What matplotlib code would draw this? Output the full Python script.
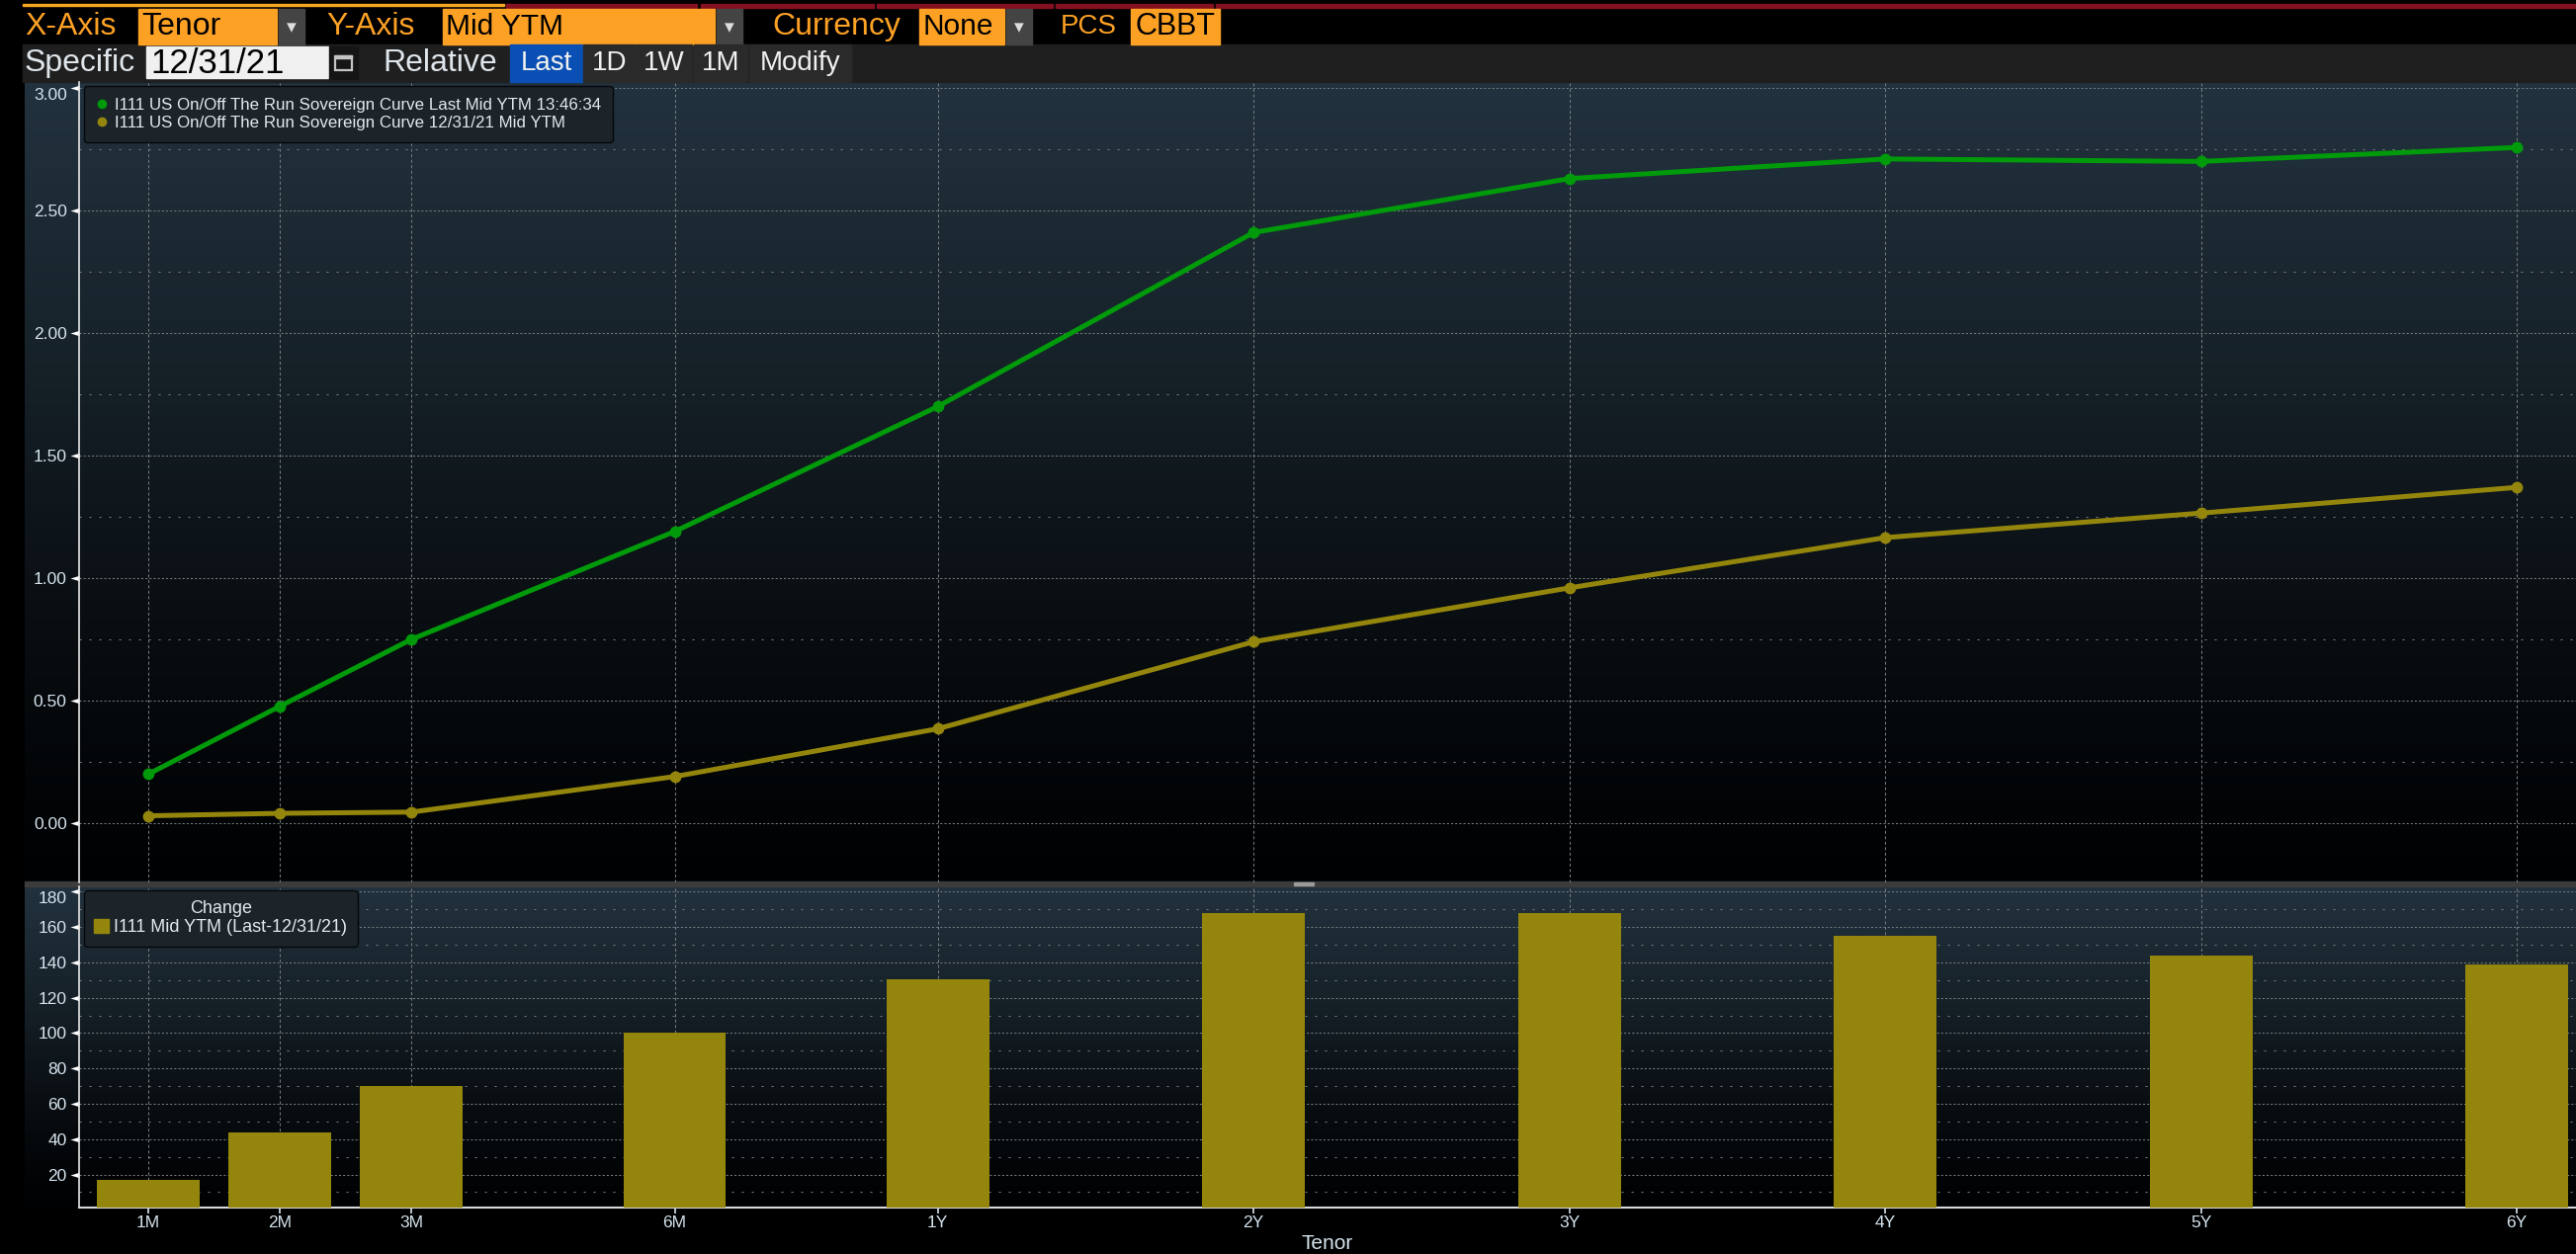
import matplotlib
matplotlib.use("Agg")
import matplotlib.pyplot as plt
import numpy as np
from matplotlib.lines import Line2D
from matplotlib.patches import Patch, Rectangle
from matplotlib.path import Path

W, H = 2606, 1269

tenors = ["1M", "2M", "3M", "6M", "1Y", "2Y", "3Y", "4Y", "5Y", "6Y"]
tenor_pos = [0, 1, 2, 4, 6, 8.4, 10.8, 13.2, 15.6, 18]
ytm_last = [0.20, 0.477, 0.75, 1.19, 1.70, 2.41, 2.63, 2.71, 2.70, 2.757]
ytm_old = [0.03, 0.04, 0.045, 0.19, 0.385, 0.74, 0.96, 1.165, 1.265, 1.37]
change = [17, 43.6, 70, 100, 130.6, 168, 168, 155, 144, 139]

GREEN = "#009a0a"
OLIVE = "#94860c"
ORANGE = "#fda125"
LABEL = "#d6e4ee"
GRID = "#767b7e"
plt.rcParams["font.family"] = ["Liberation Sans", "DejaVu Sans"]


def box(x0, y0, x1, y1):
    # pixel box -> figure fraction rect
    return [x0 / W, 1 - y1 / H, (x1 - x0) / W, (y1 - y0) / H]


fig = plt.figure(figsize=(W / 100, H / 100), dpi=100, facecolor="black")

# toolbar and panel backgrounds, in pixels
bg = fig.add_axes([0, 0, 1, 1], zorder=0)
bg.axis("off")

stops = np.array([[34, 50, 62], [24, 36, 44], [10, 15, 19], [2, 4, 6], [0, 1, 2]]) / 255
for top, bottom in [(83, 893), (897, 1222)]:
    t = np.linspace(0, 1, 256)
    grad = np.stack([np.interp(t, [0, 0.3, 0.65, 0.9, 1], stops[:, i]) for i in range(3)], axis=1)
    bg.imshow(grad[:, None, :], extent=(25, W, bottom, top), aspect="auto", zorder=1)
bg.set_xlim(0, W)
bg.set_ylim(H, 0)
bg.add_patch(Rectangle((25, 892), W - 25, 5, color="#3c3c3c", zorder=2))
bg.add_patch(Rectangle((1309, 892.5), 20, 1, color="#9a9a9a", zorder=3))
bg.add_patch(Rectangle((1309, 895), 20, 1, color="#9a9a9a", zorder=3))
bg.add_patch(Rectangle((23, 45), W - 23, 38, color="#1f1f1f", zorder=2))

bg.add_patch(Rectangle((23, 4), 487, 2, color="#f5a623", zorder=2))
for x0, x1 in [(512, 705), (709, 884), (887, 1065), (1068, 1227), (1230, W)]:
    bg.add_patch(Rectangle((x0, 4), x1 - x0, 3.5, color="#85101f", zorder=2))

for x0, x1 in [(140, 280), (448, 723), (930, 1016), (1144, 1234)]:
    bg.add_patch(Rectangle((x0, 9), x1 - x0, 36, color=ORANGE, zorder=2))
for x0, x1 in [(282, 308), (725, 751), (1018, 1044)]:
    bg.add_patch(Rectangle((x0, 9), x1 - x0, 36, color="#444444", zorder=2))
    bg.text((x0 + x1) / 2, 28, "▾", color="#dddddd", fontsize=14, ha="center", va="center",
            family="DejaVu Sans", zorder=3)

for x, s, size in [(25, "X-Axis", 23), (330, "Y-Axis", 23), (781, "Currency", 23), (1073, "PCS", 20)]:
    bg.text(x, 27, s, color=ORANGE, fontsize=size, va="center", zorder=3)
for x, s, size in [(143, "Tenor", 23), (451, "Mid YTM", 21.5), (934, "None", 21.5), (1148, "CBBT", 22)]:
    bg.text(x, 27, s, color="black", fontsize=size, va="center", zorder=3)

bg.add_patch(Rectangle((148, 47), 184, 32, color="#f0f0f0", zorder=3))
bg.add_patch(Rectangle((333, 47), 29, 33, color="#151515", zorder=3))
bg.add_patch(Rectangle((339, 57), 17, 14, fill=False, edgecolor="#c4c4c4", lw=1.6, zorder=4))
bg.add_patch(Rectangle((339, 56), 17, 3, color="#c4c4c4", zorder=4))
bg.text(25, 64, "Specific", color="#dfe6ec", fontsize=23, va="center", zorder=3)
bg.text(152, 64, "12/31/21", color="black", fontsize=25, va="center", zorder=4)
bg.text(387, 64, "Relative", color="#dfe6ec", fontsize=23, va="center", zorder=3)
bg.add_patch(Rectangle((516, 45), 73, 38, color="#0a50b4", zorder=3))
for x0, x1 in [(590, 643), (644, 700), (702, 756), (758, 861)]:
    bg.add_patch(Rectangle((x0, 45), x1 - x0, 38, color="#2a2a2a", zorder=3))
for x0, x1, s in [(516, 589, "Last"), (590, 643, "1D"), (644, 700, "1W"), (702, 756, "1M"), (758, 861, "Modify")]:
    bg.text((x0 + x1) / 2, 64, s, color="#f0f0f0", fontsize=20, ha="center", va="center", zorder=4)

# upper panel
ax = fig.add_axes(box(79.5, 83, W, 893), zorder=2)
ax.patch.set_alpha(0)
ax.plot(tenor_pos, ytm_last, color=GREEN, lw=3.6, marker="o", ms=7.5, zorder=5)
ax.plot(tenor_pos, ytm_old, color=OLIVE, lw=3.6, marker="o", ms=7.5, zorder=5)
ax.set_xlim(-0.53, 18.45)
ax.set_ylim(-0.242, 3.024)
ax.set_yticks(np.arange(0, 3.01, 0.5))
ax.set_yticks(np.arange(0.25, 3, 0.5), minor=True)
ax.set_yticklabels([f"{v:.2f}" for v in np.arange(0, 3.01, 0.5)])
ax.set_xticks(tenor_pos)
ax.tick_params(axis="x", length=0, labelbottom=False)

# lower panel
ax2 = fig.add_axes(box(79.5, 897, W, 1222), zorder=2)
ax2.patch.set_alpha(0)
ax2.bar(tenor_pos, change, width=0.78, color=OLIVE, zorder=5)
ax2.set_xlim(-0.53, 18.45)
ax2.set_ylim(1.3, 183)
ax2.set_yticks(np.arange(20, 181, 20))
ax2.set_yticks(np.arange(10, 180, 20), minor=True)
ax2.set_xticks(tenor_pos)
ax2.set_xticklabels(tenors)
ax2.set_xlabel("Tenor", color=LABEL, fontsize=15, labelpad=3)
ax2.tick_params(axis="x", colors=LABEL, labelsize=12.5, length=4, width=1.2, pad=2)

# left pointing tick flag, tip away from the spine
flag = Path([(-1, 0), (0, 0.3), (0, -0.3), (-1, 0)])

for a in (ax, ax2):
    for side in ("top", "right"):
        a.spines[side].set_visible(False)
    a.spines["left"].set_color("#e8e8e8")
    a.spines["left"].set_linewidth(1.2)
    a.tick_params(axis="y", which="major", colors=LABEL, labelsize=12.5, pad=8.5, left=True, length=0)
    a.tick_params(axis="y", which="minor", length=0)
    for tick in a.yaxis.get_major_ticks():
        tick.tick1line.set_marker(flag)
        tick.tick1line.set_markersize(13)
        tick.tick1line.set_markerfacecolor("white")
        tick.tick1line.set_markeredgewidth(0)
    # top label gets pushed under its tick, the others sit centred on theirs
    a.yaxis.get_major_ticks()[-1].label1.set_verticalalignment("top")
    a.set_axisbelow(True)
    a.grid(axis="y", which="major", color=GRID, lw=0.75, ls=(0, (2, 2)), zorder=1)
    a.grid(axis="y", which="minor", color=GRID, lw=0.75, ls=(0, (2, 7.6)), zorder=1)
    a.grid(axis="x", which="major", color=GRID, lw=0.75, ls=(0, (2.9, 2.4)), zorder=1)
ax.spines["bottom"].set_visible(False)
ax2.spines["bottom"].set_color("#d8d8d8")
ax2.spines["bottom"].set_linewidth(1.5)

leg = ax.legend(
    handles=[
        Line2D([], [], color=GREEN, marker="o", ls="", ms=6,
               label="I111 US On/Off The Run Sovereign Curve Last Mid YTM 13:46:34"),
        Line2D([], [], color=OLIVE, marker="o", ls="", ms=6,
               label="I111 US On/Off The Run Sovereign Curve 12/31/21 Mid YTM"),
    ],
    loc="upper left", bbox_to_anchor=(0.002, 0.995), borderaxespad=0, fontsize=12.2, frameon=True,
    facecolor="#1c2329", edgecolor="#05080a", labelcolor="#e4e9ec", framealpha=1, handletextpad=0.34,
    borderpad=0.7, labelspacing=0.2, handlelength=0.8,
)
leg.set_zorder(10)
leg2 = ax2.legend(
    handles=[Patch(color=OLIVE, label="I111 Mid YTM (Last-12/31/21)")],
    title="Change", loc="upper left", bbox_to_anchor=(0.002, 0.988), borderaxespad=0, fontsize=13,
    title_fontsize=13, frameon=True, facecolor="#1c2329", edgecolor="#05080a", labelcolor="#e4e9ec",
    framealpha=1, handlelength=0.84, handleheight=0.78, handletextpad=0.29, borderpad=0.58, labelspacing=0.1,
)
leg2.get_title().set_color("#e4e9ec")
leg2.set_zorder(10)

fig.savefig("out.png", dpi=100, facecolor="black")
